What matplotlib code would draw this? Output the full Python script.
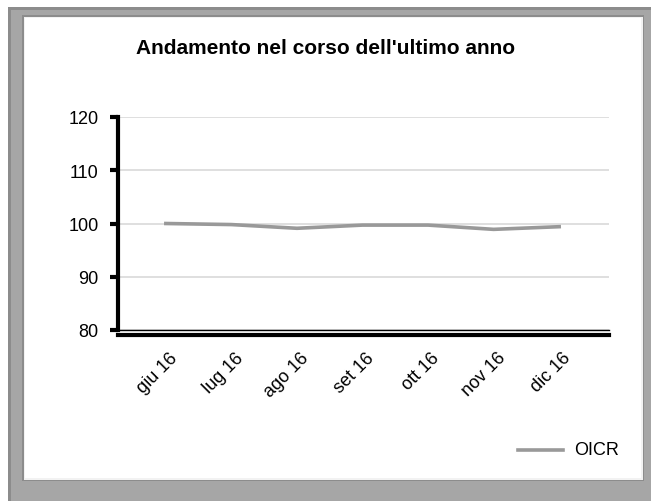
import matplotlib
matplotlib.use("Agg")
import matplotlib.pyplot as plt
from matplotlib.patches import Rectangle
from matplotlib.lines import Line2D
import matplotlib.transforms as mtransforms

categories = ["giu 16", "lug 16", "ago 16", "set 16", "ott 16", "nov 16", "dic 16"]
oicr = [100.0, 99.8, 99.1, 99.7, 99.7, 98.9, 99.4]
yticks = [80, 90, 100, 110, 120]

plt.rcParams['font.family'] = ['Liberation Sans', 'DejaVu Sans']

W, H = 651, 502
fig = plt.figure(figsize=(W / 100, H / 100), dpi=100)
fig.patch.set_facecolor('white')

def px(x0, y0, x1, y1):
    return (x0 / W, 1 - y1 / H), (x1 - x0) / W, (y1 - y0) / H

# frame
for (x0, y0, x1, y1, col) in [
    (8, 8, 651, 502, '#a6a6a6'),
    (8, 8, 651, 11, '#8c8c8c'),
    (8, 8, 11, 502, '#8c8c8c'),
    (22, 16, 644, 482, '#8c8c8c'),
    (24, 18, 643, 481, '#f2f2f2'),
    (25, 19, 641, 479, 'white'),
]:
    xy, w, h = px(x0, y0, x1, y1)
    fig.patches.append(Rectangle(xy, w, h, transform=fig.transFigure,
                                 facecolor=col, edgecolor='none', zorder=-10))

ax = fig.add_axes([118 / W, 1 - 331 / H, (609 - 118) / W, (331 - 118) / H])
ax.set_facecolor('none')
for s in ['top', 'right']:
    ax.spines[s].set_visible(False)
ax.spines['left'].set_linewidth(3)
ax.spines['bottom'].set_linewidth(3)
ax.spines['bottom'].set_position(('outward', 3.5))

x = list(range(len(categories)))
ax.plot(x, oicr, color='#999999', linewidth=2.6, label='OICR', zorder=3)

ax.set_ylim(80, 120)
ax.set_yticks(yticks)
ax.set_xlim(-0.73, 6.76)
ax.tick_params(axis='y', direction='out', length=6, width=3, labelsize=13, pad=8)
ax.tick_params(axis='x', length=0, labelsize=13, pad=10)
ax.set_xticks(x)
ax.set_xticklabels(categories, rotation=45, ha='right', rotation_mode='anchor')
offset = mtransforms.ScaledTranslation(3 / 100, 0, fig.dpi_scale_trans)
for lab in ax.get_xticklabels():
    lab.set_transform(lab.get_transform() + offset)
ax.grid(axis='y', color='#d9d9d9', linewidth=1.2)
ax.set_axisbelow(True)
ax.axhline(80, color='black', linewidth=1, zorder=4, clip_on=False)

fig.text(0.5, 1 - 48 / H, "Andamento nel corso dell'ultimo anno",
         ha='center', va='center', fontsize=15, fontweight='bold')

# legend
fig.lines.append(Line2D([518 / W, 563 / W], [1 - 451 / H] * 2, transform=fig.transFigure,
                        color='#999999', linewidth=2.6))
fig.text(574 / W, 1 - 451 / H, 'OICR', ha='left', va='center', fontsize=13)

fig.savefig('out.png', dpi=100)
